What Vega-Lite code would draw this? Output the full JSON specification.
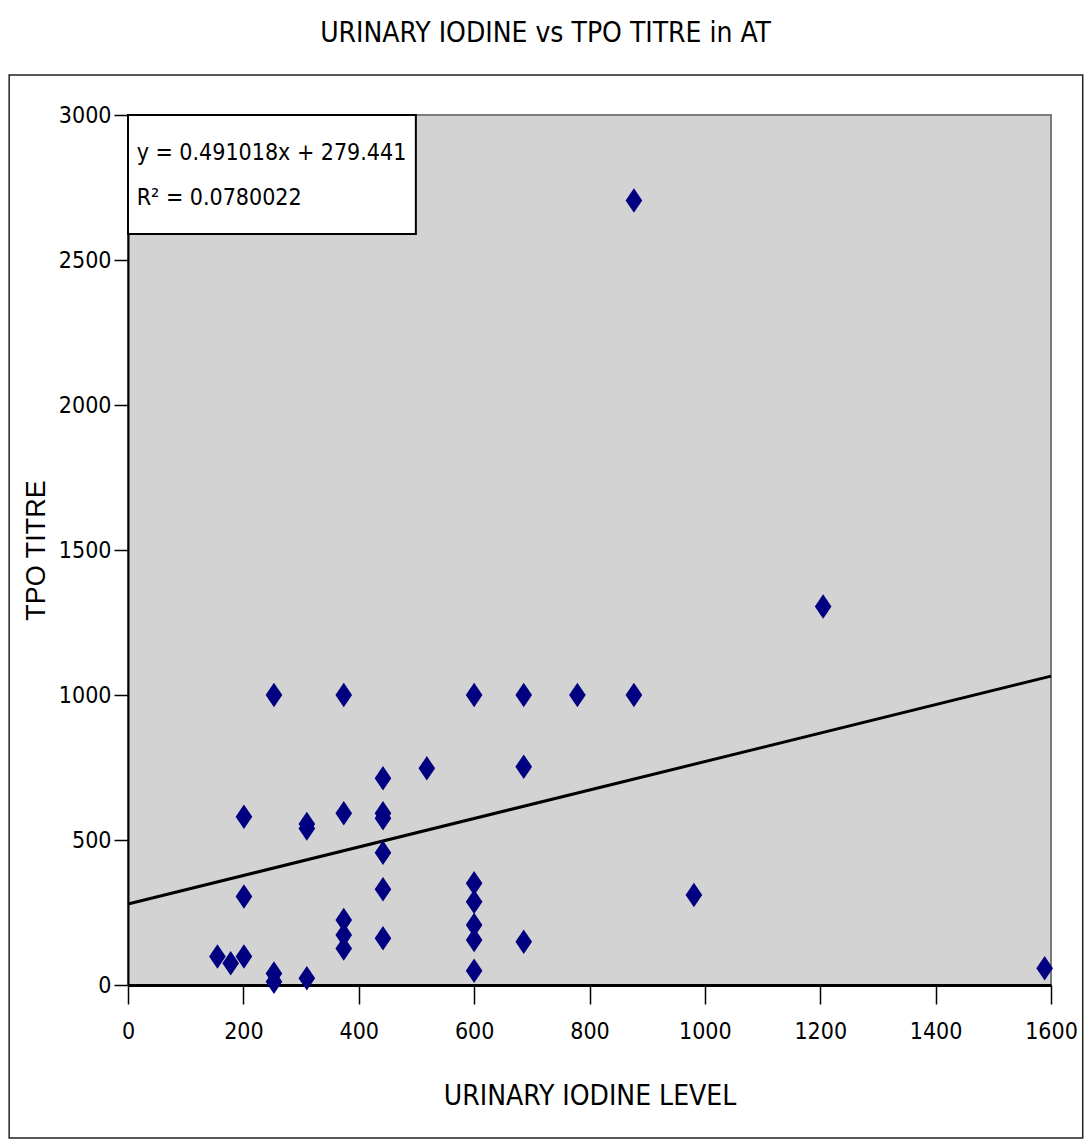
{
  "$schema": "https://vega.github.io/schema/vega-lite/v6.json",
  "width": 923,
  "height": 870,
  "autosize": {"type": "none"},
  "padding": {"left": 128, "top": 115, "right": 35, "bottom": 157},
  "background": "white",
  "title": {
    "text": "URINARY IODINE vs TPO TITRE in AT",
    "font": "DejaVu Sans Condensed, DejaVu Sans",
    "fontSize": 28,
    "fontWeight": "normal",
    "color": "black",
    "anchor": "middle",
    "dx": -44,
    "offset": 26
  },
  "config": {
    "view": {"fill": "#d3d3d3", "stroke": "#7a7a7a", "strokeWidth": 2},
    "axis": {"grid": false}
  },
  "datasets": {
    "points": [
      {"iodine": 253, "tpo": 1000},
      {"iodine": 374, "tpo": 1000},
      {"iodine": 600, "tpo": 1000},
      {"iodine": 686, "tpo": 1000},
      {"iodine": 779, "tpo": 1000},
      {"iodine": 877, "tpo": 1000},
      {"iodine": 877, "tpo": 2705},
      {"iodine": 1205, "tpo": 1305},
      {"iodine": 518, "tpo": 747},
      {"iodine": 686, "tpo": 753},
      {"iodine": 442, "tpo": 713},
      {"iodine": 201, "tpo": 580},
      {"iodine": 310, "tpo": 540},
      {"iodine": 310, "tpo": 555},
      {"iodine": 374, "tpo": 592},
      {"iodine": 442, "tpo": 592},
      {"iodine": 442, "tpo": 575},
      {"iodine": 442, "tpo": 456},
      {"iodine": 442, "tpo": 330},
      {"iodine": 442, "tpo": 161},
      {"iodine": 201, "tpo": 305},
      {"iodine": 600, "tpo": 351},
      {"iodine": 600, "tpo": 287},
      {"iodine": 600, "tpo": 207},
      {"iodine": 600, "tpo": 155},
      {"iodine": 600, "tpo": 49},
      {"iodine": 374, "tpo": 224},
      {"iodine": 374, "tpo": 172},
      {"iodine": 374, "tpo": 126},
      {"iodine": 155, "tpo": 98},
      {"iodine": 178, "tpo": 75},
      {"iodine": 201, "tpo": 98},
      {"iodine": 253, "tpo": 40},
      {"iodine": 253, "tpo": 11},
      {"iodine": 310, "tpo": 23},
      {"iodine": 686, "tpo": 149},
      {"iodine": 981, "tpo": 310},
      {"iodine": 1589, "tpo": 58}
    ],
    "trend": [
      {"iodine": 0, "tpo": 279.441},
      {"iodine": 1600, "tpo": 1065.07}
    ],
    "note": [
      {"line1": "y = 0.491018x + 279.441", "line2": "R² = 0.0780022"}
    ]
  },
  "layer": [
    {
      "data": {"name": "trend"},
      "mark": {"type": "line", "color": "black", "strokeWidth": 3},
      "encoding": {
        "x": {
          "field": "iodine", "type": "quantitative",
          "scale": {"domain": [0, 1600], "nice": false, "zero": false},
          "axis": {
            "title": "URINARY IODINE LEVEL",
            "titleFont": "DejaVu Sans Condensed, DejaVu Sans",
            "titleFontSize": 28,
            "titleFontWeight": "normal",
            "titleColor": "black",
            "titlePadding": 39,
            "values": [0, 200, 400, 600, 800, 1000, 1200, 1400, 1600],
            "format": "d",
            "labelFont": "DejaVu Sans Condensed, DejaVu Sans",
            "labelFontSize": 23,
            "labelColor": "black",
            "labelPadding": 16,
            "labelFlush": false,
            "labelOverlap": false,
            "domainColor": "black",
            "domainWidth": 3,
            "tickColor": "black",
            "tickWidth": 1.5,
            "tickSize": 19
          }
        },
        "y": {
          "field": "tpo", "type": "quantitative",
          "scale": {"domain": [0, 3000], "nice": false, "zero": false},
          "axis": {
            "title": "TPO TITRE",
            "titleFont": "Liberation Sans",
            "titleFontSize": 27,
            "titleFontWeight": "normal",
            "titleColor": "black",
            "titlePadding": 8,
            "values": [0, 500, 1000, 1500, 2000, 2500, 3000],
            "format": "d",
            "labelFont": "DejaVu Sans Condensed, DejaVu Sans",
            "labelFontSize": 23,
            "labelColor": "black",
            "labelPadding": 3,
            "labelFlush": false,
            "domainColor": "black",
            "domainWidth": 2,
            "tickColor": "black",
            "tickWidth": 1.5,
            "tickSize": 14
          }
        }
      }
    },
    {
      "data": {"name": "points"},
      "mark": {
        "type": "point",
        "shape": "M-0.68,0L0,-1L0.68,0L0,1Z",
        "filled": true,
        "color": "#000080",
        "opacity": 1,
        "size": 600
      },
      "encoding": {
        "x": {"field": "iodine", "type": "quantitative"},
        "y": {"field": "tpo", "type": "quantitative"}
      }
    },
    {
      "data": {"name": "note"},
      "mark": {"type": "rect", "fill": "white", "stroke": "black", "strokeWidth": 2},
      "encoding": {
        "x": {"datum": 0},
        "x2": {"datum": 499},
        "y": {"datum": 3000},
        "y2": {"datum": 2590}
      }
    },
    {
      "data": {"name": "note"},
      "mark": {
        "type": "text",
        "align": "left",
        "baseline": "alphabetic",
        "font": "DejaVu Sans Condensed, DejaVu Sans",
        "fontSize": 23,
        "color": "black"
      },
      "encoding": {
        "x": {"datum": 15},
        "y": {"datum": 2845},
        "text": {"field": "line1"}
      }
    },
    {
      "data": {"name": "note"},
      "mark": {
        "type": "text",
        "align": "left",
        "baseline": "alphabetic",
        "font": "DejaVu Sans Condensed, DejaVu Sans",
        "fontSize": 23,
        "color": "black"
      },
      "encoding": {
        "x": {"datum": 15},
        "y": {"datum": 2690},
        "text": {"field": "line2"}
      }
    },
    {
      "data": {"name": "note"},
      "mark": {"type": "rect", "fill": null, "stroke": "#222222", "strokeWidth": 1.5, "clip": false},
      "encoding": {
        "x": {"datum": -206},
        "x2": {"datum": 1655},
        "y": {"datum": 3138},
        "y2": {"datum": -528}
      }
    }
  ]
}
